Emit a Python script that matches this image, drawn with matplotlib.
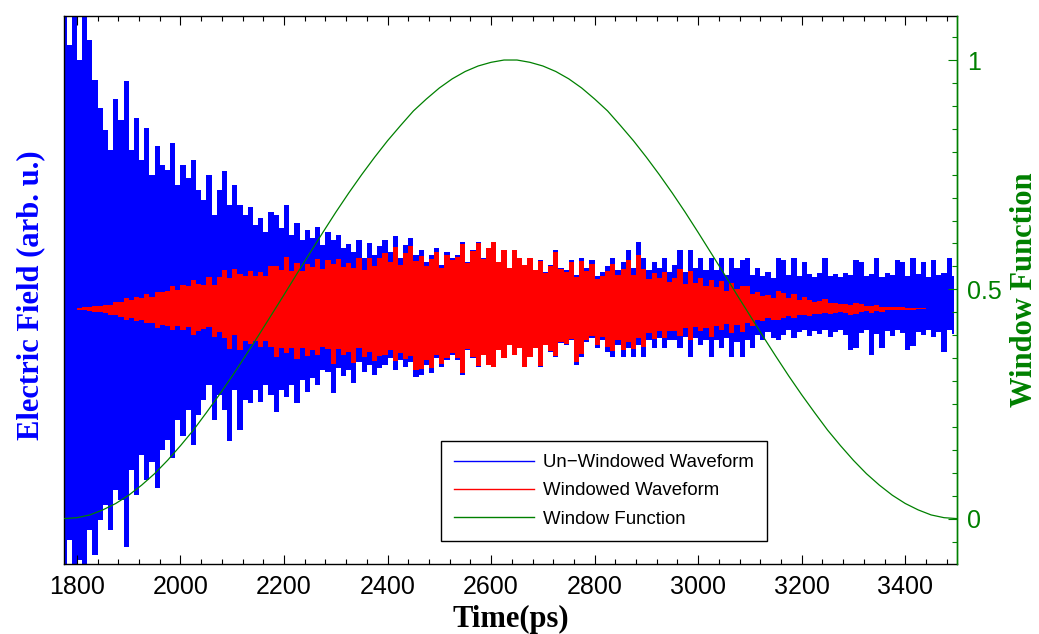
import numpy as np
import matplotlib.pyplot as plt
from matplotlib.lines import Line2D
from matplotlib.ticker import FixedLocator, MultipleLocator

# Waveform peaks: one upper and one lower peak every 10 ps,
# starting at 1775 ps (left edge of the plot). Units are arbitrary.
t_start = 1775
t_step = 10

blue_up = [
    3.2, 2.64, 3.2, 2.49, 3.1, 2.69,
    2.29, 2.01, 1.79, 1.59, 2.10, 1.89, 2.28,
    1.59, 1.91, 1.49, 1.81, 1.34, 1.63, 1.44,
    1.39, 1.66, 1.24, 1.44, 1.31, 1.49, 1.19,
    1.09, 1.34, 0.94, 1.19, 1.38, 1.04, 1.24,
    1.04, 0.94, 1.02, 0.84, 0.91, 0.77, 0.97,
    0.94, 0.81, 1.04, 0.74, 0.86, 0.69, 0.79,
    0.71, 0.82, 0.64, 0.77, 0.69, 0.74, 0.61,
    0.65, 0.57, 0.69, 0.51, 0.66, 0.54, 0.63,
    0.69, 0.57, 0.73, 0.51, 0.64, 0.71, 0.54,
    0.59, 0.47, 0.54, 0.61, 0.44, 0.57, 0.51,
    0.54, 0.67, 0.47, 0.59, 0.67, 0.51, 0.61,
    0.67, 0.47, 0.59, 0.41, 0.59, 0.51, 0.44,
    0.51, 0.39, 0.49, 0.37, 0.44, 0.59, 0.41,
    0.39, 0.49, 0.34, 0.51, 0.41, 0.49, 0.33,
    0.37, 0.43, 0.51, 0.39, 0.47, 0.59, 0.41,
    0.67, 0.51, 0.39, 0.47, 0.41, 0.51, 0.37,
    0.44, 0.59, 0.37, 0.59, 0.41, 0.51, 0.39,
    0.51, 0.39, 0.51, 0.34, 0.51, 0.41, 0.49,
    0.51, 0.34, 0.41, 0.33, 0.37, 0.31, 0.51,
    0.49, 0.34, 0.51, 0.33, 0.47, 0.35, 0.32, 0.36, 0.51, 0.33,
    0.35, 0.32, 0.36, 0.34, 0.49, 0.47, 0.33, 0.35, 0.51, 0.32,
    0.36, 0.34, 0.49, 0.47, 0.33, 0.51, 0.35, 0.47, 0.32, 0.49,
    0.34, 0.36, 0.51, 0.33,
]

blue_lo = [
    -2.7, -2.31, -2.8, -2.51, -2.7, -2.21,
    -2.46, -2.11, -1.96, -2.21, -1.81, -1.91, -2.38,
    -1.61, -1.86, -1.46, -1.71, -1.53, -1.79, -1.41,
    -1.31, -1.49, -1.11, -1.27, -1.01, -1.36, -1.06,
    -0.91, -0.76, -1.11, -0.86, -1.01, -1.32, -0.81,
    -1.21, -0.91, -0.94, -0.81, -0.93, -0.76, -0.86,
    -1.03, -0.81, -0.88, -0.76, -0.94, -0.71, -0.83,
    -0.69, -0.76, -0.61, -0.63, -0.84, -0.59, -0.67,
    -0.61, -0.74, -0.53, -0.63, -0.56, -0.66, -0.59,
    -0.56, -0.49, -0.61, -0.51, -0.58, -0.53, -0.68,
    -0.66, -0.56, -0.64, -0.49, -0.58, -0.51, -0.46,
    -0.51, -0.66, -0.41, -0.49, -0.58, -0.46, -0.56,
    -0.58, -0.41, -0.49, -0.36, -0.46, -0.39, -0.58,
    -0.48, -0.39, -0.58, -0.36, -0.43, -0.48, -0.34,
    -0.36, -0.31, -0.56, -0.48, -0.33, -0.29, -0.39,
    -0.31, -0.43, -0.48, -0.36, -0.48, -0.39, -0.48,
    -0.36, -0.48, -0.31, -0.39, -0.29, -0.39, -0.31,
    -0.31, -0.39, -0.28, -0.48, -0.29, -0.36, -0.31,
    -0.48, -0.31, -0.39, -0.29, -0.48, -0.33, -0.48,
    -0.31, -0.39, -0.26, -0.31, -0.23, -0.29, -0.31,
    -0.26, -0.21, -0.29, -0.23, -0.21, -0.27, -0.22, -0.25, -0.21, -0.28,
    -0.23, -0.21, -0.26, -0.41, -0.39, -0.24, -0.21, -0.46, -0.25, -0.39,
    -0.22, -0.27, -0.21, -0.24, -0.41, -0.37, -0.23, -0.26, -0.21, -0.28,
    -0.23, -0.43, -0.21, -0.25,
]

red_up = [
    0, 0.001, 0.004, 0.007, 0.017, 0.022,
    0.027, 0.033, 0.038, 0.042, 0.069, 0.075, 0.107,
    0.087, 0.121, 0.108, 0.149, 0.124, 0.169, 0.166,
    0.176, 0.231, 0.188, 0.239, 0.234, 0.288, 0.248,
    0.243, 0.319, 0.239, 0.321, 0.395, 0.315, 0.396,
    0.349, 0.333, 0.378, 0.327, 0.370, 0.327, 0.430,
    0.433, 0.388, 0.517, 0.381, 0.459, 0.381, 0.450,
    0.417, 0.497, 0.399, 0.494, 0.455, 0.500, 0.423,
    0.462, 0.414, 0.512, 0.387, 0.510, 0.426, 0.506,
    0.564, 0.474, 0.616, 0.437, 0.556, 0.626, 0.482,
    0.533, 0.430, 0.500, 0.570, 0.415, 0.542, 0.489,
    0.522, 0.652, 0.460, 0.581, 0.661, 0.505, 0.606,
    0.67, 0.47, 0.59, 0.41, 0.59, 0.51, 0.44,
    0.507, 0.387, 0.485, 0.364, 0.432, 0.575, 0.397,
    0.375, 0.468, 0.322, 0.479, 0.381, 0.451, 0.300,
    0.332, 0.382, 0.446, 0.337, 0.400, 0.494, 0.338,
    0.543, 0.405, 0.304, 0.360, 0.308, 0.374, 0.266,
    0.308, 0.404, 0.247, 0.384, 0.259, 0.314, 0.233,
    0.295, 0.219, 0.277, 0.178, 0.258, 0.200, 0.230,
    0.231, 0.148, 0.171, 0.131, 0.141, 0.113, 0.176,
    0.161, 0.106, 0.150, 0.092, 0.123, 0.086, 0.074, 0.078, 0.103, 0.062,
    0.061, 0.051, 0.053, 0.045, 0.059, 0.051, 0.032, 0.031, 0.040, 0.022,
    0.021, 0.017, 0.021, 0.017, 0.010, 0.012, 0.007, 0.007, 0.003, 0.003,
    0.001, 0.001, 0.001, 0,
]

red_lo = [
    0, -0.001, -0.004, -0.008, -0.014, -0.018,
    -0.029, -0.034, -0.041, -0.059, -0.059, -0.076, -0.112,
    -0.089, -0.118, -0.106, -0.141, -0.142, -0.186, -0.162,
    -0.166, -0.207, -0.169, -0.211, -0.181, -0.262, -0.220,
    -0.203, -0.181, -0.282, -0.232, -0.289, -0.400, -0.258,
    -0.407, -0.322, -0.349, -0.315, -0.379, -0.323, -0.381,
    -0.475, -0.388, -0.437, -0.391, -0.502, -0.392, -0.473,
    -0.406, -0.461, -0.381, -0.404, -0.554, -0.399, -0.464,
    -0.433, -0.537, -0.393, -0.478, -0.433, -0.520, -0.474,
    -0.458, -0.407, -0.515, -0.437, -0.504, -0.467, -0.607,
    -0.597, -0.512, -0.592, -0.458, -0.547, -0.485, -0.441,
    -0.493, -0.642, -0.401, -0.482, -0.572, -0.456, -0.557,
    -0.58, -0.41, -0.49, -0.36, -0.46, -0.39, -0.58,
    -0.478, -0.387, -0.574, -0.355, -0.422, -0.468, -0.329,
    -0.346, -0.296, -0.530, -0.451, -0.307, -0.267, -0.355,
    -0.278, -0.382, -0.420, -0.311, -0.408, -0.326, -0.396,
    -0.292, -0.382, -0.242, -0.298, -0.218, -0.286, -0.223,
    -0.217, -0.267, -0.187, -0.312, -0.183, -0.221, -0.185,
    -0.278, -0.174, -0.212, -0.152, -0.243, -0.161, -0.226,
    -0.140, -0.169, -0.108, -0.123, -0.087, -0.105, -0.107,
    -0.085, -0.065, -0.086, -0.064, -0.055, -0.066, -0.051, -0.054, -0.042, -0.052,
    -0.040, -0.033, -0.038, -0.055, -0.047, -0.026, -0.021, -0.040, -0.020, -0.027,
    -0.013, -0.014, -0.009, -0.009, -0.012, -0.009, -0.004, -0.004, -0.002, -0.002,
    -0.001, -0.001, 0, 0,
]

# window function, read every 25 ps from 1775 to 3500 ps
win_t = list(range(1775, 3501, 25))
win_val = [
    0, 0.002, 0.008, 0.019, 0.033, 0.051, 0.073, 0.098, 0.127, 0.159,
    0.193, 0.231, 0.270, 0.311, 0.354, 0.398, 0.443, 0.488, 0.534, 0.579,
    0.624, 0.668, 0.710, 0.750, 0.788, 0.824, 0.857, 0.889, 0.915, 0.939,
    0.959, 0.975, 0.987, 0.995, 1.000,
    1.000, 0.995, 0.987, 0.975, 0.959, 0.939, 0.915, 0.889, 0.857, 0.824,
    0.788, 0.750, 0.710, 0.668, 0.624, 0.579, 0.534, 0.488, 0.443, 0.398,
    0.354, 0.311, 0.270, 0.231, 0.193, 0.159, 0.127, 0.098, 0.073, 0.051,
    0.033, 0.019, 0.008, 0.002, 0,
]

xticks = [1800, 2000, 2200, 2400, 2600, 2800, 3000, 3200, 3400]
right_ticks = [0, 0.5, 1]
right_ticklabels = ['0', '0.5', '1']

green = '#008000'
sans = 'Liberation Sans'
serif = 'Liberation Serif'

fig = plt.figure(figsize=(10.39, 6.34), dpi=100)
ax = fig.add_axes([64 / 1039, 1 - 564 / 634, 893 / 1039, 548 / 634])

# the dense oscillation shows up as a solid band with spiky edges
t = t_start + t_step * np.arange(len(blue_up))
ax.fill_between(t, blue_lo, blue_up, step='mid', color='blue', lw=0)
ax.fill_between(t, red_lo, red_up, step='mid', color='red', lw=0)

ax.set_xlim(1775, 3500)
ax.set_ylim(-2.55, 2.93)
ax.set_yticks([])
ax.xaxis.set_major_locator(FixedLocator(xticks))
ax.xaxis.set_minor_locator(MultipleLocator(40))
ax.tick_params(axis='x', which='both', direction='in', top=True, bottom=True,
               width=0.8, labelsize=18, pad=8)
ax.tick_params(axis='x', which='major', length=6.5)
ax.tick_params(axis='x', which='minor', length=3.4)
for lab in ax.get_xticklabels():
    lab.set_fontfamily(sans)
for s in ax.spines.values():
    s.set_linewidth(1.0)
ax.spines['right'].set_color(green)

ax.set_xlabel('Time(ps)', fontsize=22, fontweight='bold', fontfamily=serif)
ax.xaxis.set_label_coords(0.5, -0.074)
ax.set_ylabel('Electric Field (arb. u.)', fontsize=22, fontweight='bold',
              fontfamily=serif, color='blue')
ax.yaxis.set_label_coords(-0.021, 0.49)

ax2 = ax.twinx()
lg, = ax2.plot(win_t, win_val, color=green, lw=0.9)
ax2.set_ylim(-0.099, 1.096)
ax2.yaxis.set_major_locator(FixedLocator(right_ticks))
ax2.set_yticklabels(right_ticklabels)
ax2.yaxis.set_minor_locator(MultipleLocator(0.05))
ax2.tick_params(axis='y', which='both', direction='in', colors=green,
                width=0.8, labelsize=18, pad=7)
ax2.tick_params(axis='y', which='major', length=6.5)
ax2.tick_params(axis='y', which='minor', length=3.4)
for lab in ax2.get_yticklabels():
    lab.set_fontfamily(sans)
for side in ['left', 'top', 'bottom']:
    ax2.spines[side].set_visible(False)
ax2.spines['right'].set_color(green)
ax2.spines['right'].set_linewidth(1.0)
ax2.set_ylabel('Window Function', fontsize=22, fontweight='bold',
               fontfamily=serif, color=green)
ax2.yaxis.set_label_coords(1.059, 0.5)

handles = [Line2D([], [], color='blue', lw=1.0),
           Line2D([], [], color='red', lw=1.0),
           Line2D([], [], color=green, lw=1.0)]
labels = ['Un\u2212Windowed Waveform', 'Windowed Waveform', 'Window Function']
leg = ax2.legend(handles, labels, loc='upper left', bbox_to_anchor=(0.422, 0.224),
                 borderaxespad=0, prop={'family': sans, 'size': 13.4},
                 handlelength=4.3, handletextpad=0.5, labelspacing=0.6,
                 borderpad=0.7, fancybox=False, framealpha=1, edgecolor='black')
leg.get_frame().set_linewidth(1.0)

fig.savefig('out.png', dpi=100)
